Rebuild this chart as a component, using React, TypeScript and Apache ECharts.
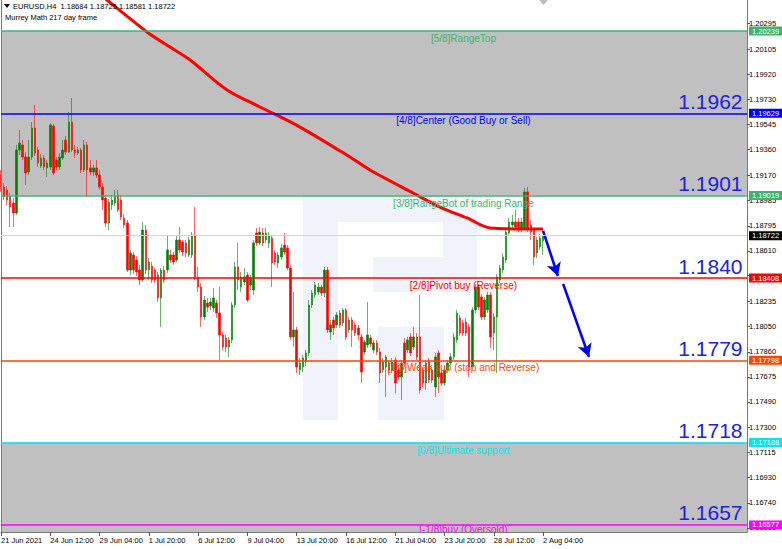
import React, { useEffect, useRef } from "react";
import * as echarts from "echarts";

// ---------- data ----------
const symbolName = "EURUSD,H4";
const indicatorName = "Murrey Math 217 day frame";

const timeLabels = [
  "21 Jun 2021", "24 Jun 12:00", "29 Jun 04:00", "1 Jul 20:00", "6 Jul 12:00", "9 Jul 04:00",
  "13 Jul 20:00", "16 Jul 12:00", "21 Jul 04:00", "23 Jul 20:00", "28 Jul 12:00", "2 Aug 04:00",
];
const barsPerTimeLabel = 16;

// H4 candles: [open, close, low, high]
const candles: number[][] = [
  [1.19172, 1.19083, 1.19046, 1.19209], [1.19083, 1.19009, 1.18986, 1.19112], [1.19061, 1.18986, 1.18949, 1.19090],
  [1.19009, 1.18934, 1.18786, 1.19038], [1.18964, 1.18890, 1.18786, 1.19001], [1.18890, 1.19357, 1.18875, 1.19394],
  [1.19357, 1.19409, 1.19320, 1.19505], [1.19394, 1.19305, 1.19283, 1.19431], [1.19305, 1.19187, 1.19098, 1.19342],
  [1.19194, 1.19305, 1.19172, 1.19431], [1.19305, 1.19520, 1.19283, 1.19565], [1.19520, 1.19335, 1.19313, 1.19691],
  [1.19357, 1.19261, 1.19231, 1.19379], [1.19238, 1.19298, 1.19224, 1.19327], [1.19298, 1.19231, 1.19209, 1.19320],
  [1.19224, 1.19261, 1.19157, 1.19283], [1.19231, 1.19542, 1.19209, 1.19557], [1.19535, 1.19187, 1.19172, 1.19550],
  [1.19283, 1.19231, 1.19209, 1.19305], [1.19231, 1.19305, 1.19209, 1.19335], [1.19298, 1.19357, 1.19283, 1.19431],
  [1.19431, 1.19342, 1.19320, 1.19461], [1.19342, 1.19565, 1.19335, 1.19639], [1.19565, 1.19357, 1.19342, 1.19742],
  [1.19357, 1.19335, 1.19298, 1.19394], [1.19335, 1.19357, 1.19320, 1.19379], [1.19357, 1.19209, 1.19187, 1.19372],
  [1.19209, 1.19394, 1.19194, 1.19431], [1.19394, 1.19209, 1.19009, 1.19416], [1.19224, 1.19194, 1.19172, 1.19283],
  [1.19194, 1.19224, 1.19164, 1.19246], [1.19224, 1.19172, 1.19149, 1.19283], [1.19172, 1.19083, 1.19061, 1.19209],
  [1.19083, 1.18986, 1.18912, 1.19112], [1.19001, 1.18816, 1.18786, 1.19023], [1.18816, 1.18972, 1.18764, 1.18994],
  [1.18949, 1.18986, 1.18912, 1.19023], [1.18964, 1.19009, 1.18942, 1.19061], [1.19023, 1.18912, 1.18897, 1.19061],
  [1.18986, 1.18860, 1.18838, 1.19023], [1.18853, 1.18801, 1.18779, 1.18883], [1.18816, 1.18467, 1.18453, 1.18838],
  [1.18467, 1.18593, 1.18430, 1.18616], [1.18579, 1.18467, 1.18438, 1.18601], [1.18542, 1.18453, 1.18423, 1.18571],
  [1.18467, 1.18393, 1.18356, 1.18505], [1.18393, 1.18764, 1.18379, 1.18823], [1.18764, 1.18467, 1.18438, 1.18801],
  [1.18467, 1.18527, 1.18393, 1.18556], [1.18497, 1.18393, 1.18371, 1.18527], [1.18467, 1.18393, 1.18371, 1.18482],
  [1.18430, 1.18260, 1.18230, 1.18453], [1.18260, 1.18467, 1.18045, 1.18482], [1.18467, 1.18393, 1.18371, 1.18497],
  [1.18467, 1.18616, 1.18445, 1.18727], [1.18579, 1.18542, 1.18519, 1.18616], [1.18579, 1.18527, 1.18505, 1.18601],
  [1.18542, 1.18690, 1.18527, 1.18720], [1.18690, 1.18616, 1.18593, 1.18786], [1.18675, 1.18601, 1.18571, 1.18690],
  [1.18668, 1.18593, 1.18564, 1.18690], [1.18579, 1.18690, 1.18564, 1.18712], [1.18579, 1.18727, 1.18556, 1.18749],
  [1.18727, 1.18416, 1.18393, 1.18934], [1.18416, 1.18341, 1.18304, 1.18490], [1.18341, 1.18119, 1.18045, 1.18371],
  [1.18119, 1.18245, 1.18097, 1.18275], [1.18223, 1.18193, 1.18156, 1.18260], [1.18201, 1.18230, 1.18171, 1.18260],
  [1.18186, 1.18260, 1.18156, 1.18334], [1.18223, 1.18149, 1.18112, 1.18245], [1.18149, 1.17986, 1.17800, 1.18341],
  [1.17986, 1.17897, 1.17874, 1.18008], [1.17963, 1.17897, 1.17860, 1.17986], [1.17897, 1.17949, 1.17823, 1.17971],
  [1.17949, 1.18208, 1.17926, 1.18230], [1.18208, 1.18490, 1.18186, 1.18527], [1.18490, 1.18393, 1.18319, 1.18668],
  [1.18341, 1.18416, 1.18304, 1.18453], [1.18379, 1.18416, 1.18356, 1.18482], [1.18430, 1.18245, 1.18230, 1.18453],
  [1.18356, 1.18408, 1.18319, 1.18430], [1.18319, 1.18668, 1.18282, 1.18690], [1.18742, 1.18668, 1.18645, 1.18779],
  [1.18668, 1.18749, 1.18653, 1.18786], [1.18742, 1.18668, 1.18645, 1.18779], [1.18690, 1.18742, 1.18668, 1.18779],
  [1.18668, 1.18727, 1.18631, 1.18749], [1.18705, 1.18519, 1.18341, 1.18727], [1.18593, 1.18527, 1.18505, 1.18616],
  [1.18519, 1.18579, 1.18482, 1.18601], [1.18564, 1.18631, 1.18542, 1.18660], [1.18653, 1.18601, 1.18579, 1.18742],
  [1.18631, 1.18482, 1.18467, 1.18653], [1.18482, 1.17971, 1.17949, 1.18505], [1.17971, 1.18023, 1.17897, 1.18304],
  [1.18023, 1.17748, 1.17704, 1.18045], [1.17726, 1.17778, 1.17689, 1.17815], [1.17748, 1.17815, 1.17711, 1.17837],
  [1.17785, 1.17852, 1.17756, 1.17874], [1.17852, 1.18208, 1.17830, 1.18245], [1.18208, 1.18297, 1.18186, 1.18319],
  [1.18282, 1.18356, 1.18260, 1.18379], [1.18304, 1.18341, 1.18282, 1.18371], [1.18341, 1.18297, 1.18275, 1.18356],
  [1.18297, 1.18467, 1.18267, 1.18490], [1.18467, 1.18023, 1.18000, 1.18490], [1.18008, 1.18060, 1.17949, 1.18097],
  [1.18097, 1.18038, 1.17986, 1.18119], [1.18060, 1.18134, 1.18038, 1.18156], [1.18149, 1.18060, 1.18038, 1.18171],
  [1.18075, 1.18171, 1.18052, 1.18186], [1.18171, 1.17971, 1.17949, 1.18186], [1.18023, 1.18097, 1.18000, 1.18119],
  [1.18097, 1.18023, 1.17897, 1.18119], [1.18060, 1.18000, 1.17978, 1.18082], [1.18038, 1.17986, 1.17949, 1.18060],
  [1.17971, 1.17711, 1.17630, 1.17993], [1.17860, 1.17934, 1.17837, 1.17949], [1.17911, 1.17986, 1.17889, 1.18230],
  [1.17963, 1.17919, 1.17897, 1.17986], [1.17874, 1.17926, 1.17852, 1.17949], [1.17926, 1.17860, 1.17837, 1.17949],
  [1.17860, 1.17704, 1.17630, 1.17889], [1.17726, 1.17785, 1.17704, 1.17815], [1.17748, 1.17823, 1.17526, 1.17837],
  [1.17778, 1.17726, 1.17689, 1.17800], [1.17726, 1.17785, 1.17704, 1.17815], [1.17800, 1.17630, 1.17556, 1.17823],
  [1.17726, 1.17674, 1.17652, 1.17763], [1.17674, 1.17778, 1.17504, 1.17800], [1.17926, 1.17778, 1.17748, 1.17963],
  [1.17874, 1.17949, 1.17852, 1.17971], [1.17971, 1.17852, 1.17830, 1.18000], [1.17897, 1.17971, 1.17874, 1.18045],
  [1.17971, 1.17823, 1.17800, 1.18000], [1.17971, 1.17578, 1.17556, 1.18282], [1.17726, 1.17630, 1.17600, 1.17748],
  [1.17630, 1.17778, 1.17578, 1.17800], [1.17785, 1.17652, 1.17630, 1.17815], [1.17726, 1.17652, 1.17630, 1.17748],
  [1.17600, 1.17823, 1.17526, 1.17852], [1.17852, 1.17674, 1.17556, 1.17874], [1.17704, 1.17630, 1.17608, 1.17726],
  [1.17630, 1.17726, 1.17608, 1.17756], [1.17726, 1.17778, 1.17704, 1.17800], [1.17778, 1.17823, 1.17756, 1.17852],
  [1.17823, 1.17971, 1.17800, 1.18000], [1.17949, 1.18149, 1.17926, 1.18171], [1.18112, 1.18000, 1.17978, 1.18134],
  [1.18075, 1.18000, 1.17978, 1.18097], [1.18082, 1.18000, 1.17978, 1.18112], [1.18045, 1.17748, 1.17674, 1.18067],
  [1.17748, 1.18171, 1.17726, 1.18193], [1.18171, 1.18341, 1.18149, 1.18364], [1.18341, 1.18193, 1.18171, 1.18364],
  [1.18267, 1.18119, 1.18097, 1.18290], [1.18119, 1.18245, 1.18097, 1.18267], [1.18171, 1.18282, 1.18149, 1.18304],
  [1.18282, 1.17971, 1.17889, 1.18304], [1.18000, 1.18119, 1.17874, 1.18149], [1.18119, 1.18416, 1.17704, 1.18438],
  [1.18393, 1.18482, 1.18371, 1.18505], [1.18467, 1.18564, 1.18445, 1.18593], [1.18542, 1.18749, 1.18519, 1.18779],
  [1.18742, 1.18823, 1.18720, 1.18853], [1.18801, 1.18823, 1.18779, 1.18875], [1.18823, 1.18786, 1.18764, 1.18912],
  [1.18823, 1.18779, 1.18749, 1.18853], [1.18779, 1.18823, 1.18749, 1.18853], [1.18779, 1.19046, 1.18764, 1.19075],
  [1.19046, 1.18779, 1.18749, 1.19083], [1.18801, 1.18749, 1.18690, 1.18838], [1.18764, 1.18564, 1.18505, 1.18779],
  [1.18593, 1.18690, 1.18556, 1.18712], [1.18638, 1.18705, 1.18616, 1.18734], [1.18684, 1.18722, 1.18581, 1.18725],
];

// moving average: [bar index, price]
const maPoints: number[][] = [
  [30.5, 1.2054], [34.4, 1.20469], [47.4, 1.20232], [54.9, 1.2012], [61.4, 1.20024], [73.4, 1.19802],
  [84.1, 1.19676], [97.1, 1.19527], [113.3, 1.19305], [119.8, 1.19209], [133.8, 1.19038], [142.5, 1.18934],
  [151.3, 1.18853], [158.8, 1.18779], [176, 1.18771],
];

// Murrey Math levels
const levels = [1.20239, 1.19629, 1.19019, 1.18408, 1.17798, 1.17188, 1.16577];
const levelNames = [
  "[5/8]RangeTop", "[4/8]Center (Good Buy or Sell)", "[3/8]RangeBot of trading Range",
  "[2/8]Pivot buy (Reverse)", "[1/8]Weak sup (stop and Reverse)", "[0/8]Ultimate support", "[-1/8]buy (Oversold)",
];
const levelColors = ["#3cb371", "#0000ff", "#3cb371", "#ff0000", "#ff4500", "#00e5ee", "#ff00ff"];
const bigLabels = ["", "1.1962", "1.1901", "1.1840", "1.1779", "1.1718", "1.1657"];
const currentPrice = 1.18722;

const priceTicks = [
  1.20295, 1.20105, 1.1992, 1.1973, 1.19545, 1.1936, 1.1917, 1.18985, 1.18795, 1.1861, 1.18425,
  1.18235, 1.1805, 1.1786, 1.17675, 1.1749, 1.173, 1.17115, 1.1693, 1.1674, 1.16555,
];
const hiddenPriceLabels = [1.18425];

// forecast arrows: [[bar, price] start, [bar, price] end]
const arrows: number[][][] = [
  [[176, 1.18757], [180.8, 1.18423]],
  [[182.5, 1.18364], [190.9, 1.17823]],
];

const Y_MIN = 1.16525;
const Y_MAX = 1.20469;
const X_MAX = 242.2;
const FONT = "'Liberation Sans', Arial, sans-serif";

export default function App() {
  const ref = useRef<HTMLDivElement>(null);

  useEffect(() => {
    if (!ref.current) return;
    const chart = echarts.init(ref.current, null, { renderer: "svg" });

    const timeIdx = timeLabels.map((_, k) => k * barsPerTimeLabel);
    const last = candles[candles.length - 1];
    const header = `${symbolName}  ${last[0].toFixed(5)} ${last[3].toFixed(5)} ${last[2].toFixed(5)} ${last[1].toFixed(5)}`;
    const labelBar = 150.3;
    const bigLabelBar = 240.9;

    const boxLabel = (text: string, bg: string) => ({
      show: true, position: "end", formatter: text, distance: 2,
      backgroundColor: bg, color: "#fff", fontSize: 7.5, fontFamily: FONT,
      padding: [1, 3, 0, 3],
    });

    const levelLines: any[] = [
      {
        yAxis: currentPrice,
        lineStyle: { color: "#d4d4d4", width: 1, type: "solid" },
        label: boxLabel(currentPrice.toFixed(5), "#000"),
      },
      ...levels.map((v, i) => ({
        yAxis: v,
        lineStyle: { color: levelColors[i], width: 1.6, type: "solid" },
        label: boxLabel(v.toFixed(5), levelColors[i]),
      })),
    ];

    const lastLevel = levels.length - 1;
    const levelTexts: any[] = levelNames.map((name, i) => ({
      coord: [labelBar, levels[i]],
      symbol: "rect", symbolSize: 1, itemStyle: { color: "rgba(0,0,0,0)" },
      label: {
        show: true, formatter: name, color: levelColors[i], fontSize: 10, fontFamily: FONT,
        position: i === lastLevel ? [0, 1] : [0, 2], align: "center", verticalAlign: "top",
        lineHeight: i === lastLevel ? 8 : 12,
      },
    }));
    const bigTexts: any[] = bigLabels
      .map((t, i) => ({ t, i }))
      .filter((d) => d.t !== "")
      .map((d) => ({
        coord: [bigLabelBar, levels[d.i]],
        symbol: "rect", symbolSize: 1, itemStyle: { color: "rgba(0,0,0,0)" },
        label: {
          show: true, formatter: d.t, color: "#2020e0", fontSize: 21, fontFamily: FONT,
          position: [0, -1], align: "right", verticalAlign: "bottom",
        },
      }));

    const wm = "rgba(205,215,235,0.3)";

    const option: any = {
      animation: false,
      backgroundColor: "#ffffff",
      grid: { left: 1, top: 0, right: 35, bottom: 17, containLabel: false, outerBoundsMode: "none" },
      xAxis: {
        type: "value", min: 0, max: X_MAX, z: 10,
        splitLine: { show: false },
        axisLine: { show: true, onZero: false, lineStyle: { color: "#7a7a7a", width: 1 } },
        axisTick: { show: true, customValues: timeIdx, length: 4, lineStyle: { color: "#555" } },
        axisLabel: {
          customValues: timeIdx, align: "left", fontSize: 7.5, color: "#000", margin: 4, fontFamily: FONT,
          formatter: (v: number) => timeLabels[Math.round(v / barsPerTimeLabel)] ?? "",
        },
      },
      yAxis: [
        {
          type: "value", position: "right", min: Y_MIN, max: Y_MAX, z: 10,
          splitLine: { show: false },
          axisLine: { show: true, onZero: false, lineStyle: { color: "#7a7a7a", width: 1 } },
          axisTick: { show: true, customValues: priceTicks, length: 3, lineStyle: { color: "#555" } },
          axisLabel: {
            customValues: priceTicks.filter((v) => !hiddenPriceLabels.includes(v)),
            fontSize: 7.5, color: "#000", margin: 2, fontFamily: FONT,
            formatter: (v: number) => v.toFixed(5),
          },
        },
        {
          type: "value", position: "left", min: Y_MIN, max: Y_MAX, z: 10,
          splitLine: { show: false },
          axisLine: { show: true, onZero: false, lineStyle: { color: "#7a7a7a", width: 1 } },
          axisTick: { show: false }, axisLabel: { show: false },
        },
      ],
      series: [
        {
          type: "candlestick",
          data: candles.map((c, i) => [i, c[0], c[1], c[2], c[3]]),
          encode: { x: 0, y: [1, 2, 3, 4] },
          barWidth: 2,
          z: 3,
          silent: true,
          itemStyle: {
            color: "#008000", color0: "#ff0000",
            borderColor: "rgba(0,128,0,0.6)", borderColor0: "rgba(255,0,0,0.6)", borderWidth: 1,
          },
        },
        {
          type: "line",
          data: maPoints,
          smooth: 0.3,
          showSymbol: false,
          clip: true,
          z: 4,
          silent: true,
          lineStyle: { color: "#ff0000", width: 3 },
          markArea: {
            silent: true, z: 0,
            itemStyle: { color: "#c0c0c0" },
            data: [
              [{ yAxis: levels[0] }, { yAxis: levels[2] }],
              [{ yAxis: levels[5] }, { yAxis: Y_MIN }],
            ],
          },
          markLine: { silent: true, precision: 5, symbol: ["none", "none"], z: 12, data: levelLines },
          markPoint: { silent: true, z: 5, data: [...levelTexts, ...bigTexts] },
        },
        {
          type: "line",
          data: maPoints,
          showSymbol: false,
          silent: true,
          z: 6,
          lineStyle: { opacity: 0 },
          markLine: {
            silent: true, precision: 5, z: 6, symbol: ["none", "arrow"], symbolSize: [11, 13],
            lineStyle: { color: "#0000ff", width: 2.6, type: "solid" },
            label: { show: false },
            data: arrows.map((a) => [{ coord: a[0] }, { coord: a[1] }]),
          },
        },
      ],
      graphic: [
        {
          type: "group", z: 1, silent: true,
          children: [
            { type: "rect", shape: { x: 303, y: 185, width: 35, height: 235 }, style: { fill: wm } },
            { type: "rect", shape: { x: 338, y: 185, width: 139, height: 37 }, style: { fill: wm } },
            { type: "rect", shape: { x: 443, y: 222, width: 34, height: 35 }, style: { fill: wm } },
            { type: "rect", shape: { x: 373, y: 257, width: 104, height: 35 }, style: { fill: wm } },
            { type: "rect", shape: { x: 378, y: 327, width: 66, height: 93 }, style: { fill: wm } },
          ],
        },
        { type: "rect", z: 8, silent: true, shape: { x: 0, y: 532.5, width: 747, height: 17 }, style: { fill: "#fff" } },
        { type: "polygon", z: 11, silent: true, shape: { points: [[4, 4], [10, 4], [7, 8]] }, style: { fill: "#000" } },
        { type: "polygon", z: 11, silent: true, shape: { points: [[539, 0], [548, 0], [543.5, 5]] }, style: { fill: "#bdbdbd" } },
        {
          type: "text", z: 11, silent: true, x: 13, y: 2,
          style: { text: header, fill: "#000", fontSize: 7.5, fontFamily: FONT },
        },
        {
          type: "text", z: 11, silent: true, x: 5, y: 13,
          style: { text: indicatorName, fill: "#000", fontSize: 7.5, fontFamily: FONT },
        },
      ],
    };

    chart.setOption(option);
    return () => chart.dispose();
  }, []);

  return (
    <div
      ref={ref}
      style={{ position: "fixed", left: 0, top: 0, width: 782, height: 549, background: "#fff" }}
    />
  );
}
